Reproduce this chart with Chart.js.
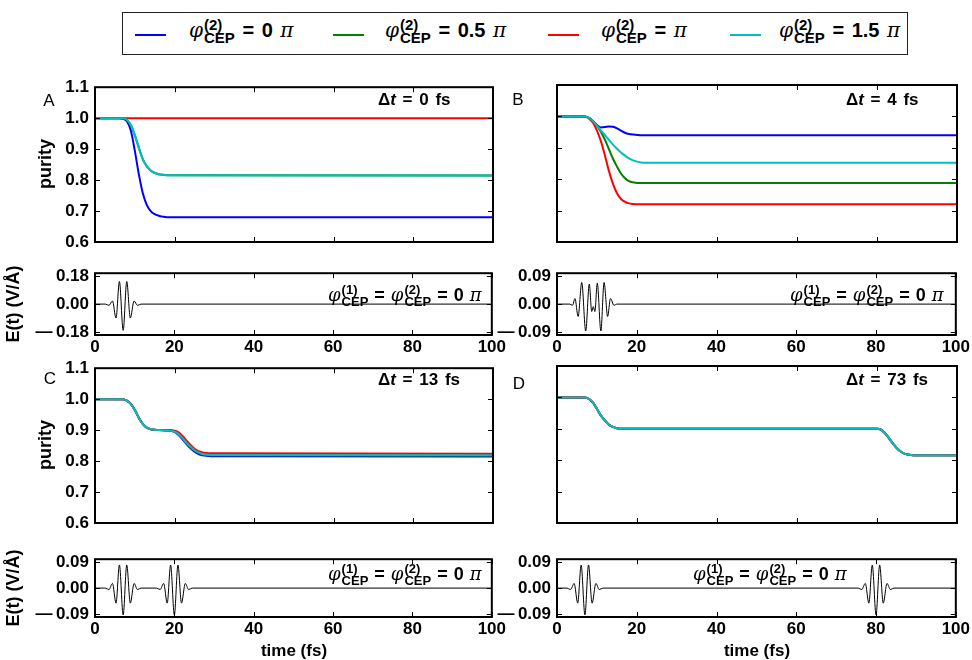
<!DOCTYPE html>
<html>
<head>
<meta charset="utf-8">
<script src="https://cdn.jsdelivr.net/npm/chart.js@4.4.1/dist/chart.umd.min.js"></script>
<style>
html, body { margin: 0; padding: 0; background: #fff; }
body { width: 972px; height: 660px; position: relative; overflow: hidden; font-family: "Liberation Sans", Arial, sans-serif; color: #000; }
canvas { position: absolute; }
.txt { position: absolute; white-space: nowrap; }
.bold { font-weight: bold; }
.phi { font-family: "DejaVu Serif", serif; font-style: italic; font-weight: normal; }
.pi { font-family: "DejaVu Serif", serif; font-style: italic; font-weight: normal; }
.ss { display: inline-block; vertical-align: -5px; font-size: 13px; line-height: 12px; margin-left: 1px; }
.ss span { display: block; }
.big .ss { font-size: 15px; line-height: 13px; vertical-align: -6px; }
#legend { position: absolute; left: 122px; top: 12px; width: 784px; height: 41px; border: 1px solid #222; }
.lline { position: absolute; height: 2px; width: 31px; top: 21px; }
.letter { position: absolute; font-size: 17px; transform: translate(-50%, -50%); }
.ytitle { position: absolute; font-weight: bold; font-size: 18px; transform: translate(-50%, -50%) rotate(-90deg); white-space: nowrap; }
</style>
</head>
<body>
<div id="legend"></div>
<canvas id="purityA"></canvas>
<canvas id="purityB"></canvas>
<canvas id="fieldA"></canvas>
<canvas id="fieldB"></canvas>
<canvas id="purityC"></canvas>
<canvas id="purityD"></canvas>
<canvas id="fieldC"></canvas>
<canvas id="fieldD"></canvas>
<script>
// series (CEP of second pulse) and colours
const cepLabels = ['0 π', '0.5 π', 'π', '1.5 π'];
const colors = ['#0000ff', '#008000', '#ff0000', '#00bfbf'];

// purity ticks / field ticks
const purityTicks = [0.6, 0.7, 0.8, 0.9, 1.0, 1.1];
const fieldTicksA = [-0.18, 0, 0.18];
const fieldTicks = [-0.09, 0, 0.09];
const timeTicks = [0, 20, 40, 60, 80, 100];

// A: dt = 0 fs
const tA = [0, 6, 7, 8, 9, 10, 11, 12, 13, 14, 15, 16, 17, 18, 100];
const blueA = [1, 1, 0.998, 0.99, 0.96, 0.895, 0.82, 0.758, 0.72, 0.7, 0.69, 0.685, 0.682, 0.68, 0.68];
const greenA = [1, 1, 1, 0.995, 0.978, 0.945, 0.905, 0.868, 0.845, 0.831, 0.823, 0.819, 0.817, 0.816, 0.815];
const redA = [1, 1, 1, 1, 1, 1, 1, 1, 1, 1, 1, 1, 1, 1, 1];
const cyanA = [1, 1, 1, 0.995, 0.978, 0.945, 0.905, 0.868, 0.845, 0.831, 0.823, 0.819, 0.817, 0.816, 0.815];

// B: dt = 4 fs
const tB = [0, 7, 8, 9, 10, 11, 12, 13, 14, 15, 16, 17, 18, 19, 20, 21, 22, 100];
const blueB = [1, 1, 0.995, 0.985, 0.972, 0.965, 0.966, 0.968, 0.967, 0.962, 0.955, 0.948, 0.944, 0.942, 0.941, 0.94, 0.94, 0.94];
const greenB = [1, 1, 0.995, 0.985, 0.97, 0.95, 0.925, 0.895, 0.865, 0.84, 0.818, 0.803, 0.794, 0.79, 0.788, 0.788, 0.788, 0.788];
const redB = [1, 1, 0.993, 0.98, 0.955, 0.92, 0.875, 0.825, 0.785, 0.755, 0.737, 0.728, 0.723, 0.721, 0.72, 0.72, 0.72, 0.72];
const cyanB = [1, 1, 0.995, 0.985, 0.97, 0.955, 0.94, 0.925, 0.91, 0.897, 0.885, 0.875, 0.866, 0.86, 0.856, 0.853, 0.852, 0.852];

// C: dt = 13 fs
const tC = [0, 7, 8, 9, 10, 11, 12, 13, 14, 15, 16, 18, 19, 20, 21, 22, 23, 24, 25, 26, 27, 28, 29, 100];
const blueC = [1, 1, 0.995, 0.985, 0.965, 0.94, 0.92, 0.908, 0.903, 0.901, 0.9, 0.899, 0.898, 0.894, 0.884, 0.87, 0.855, 0.841, 0.83, 0.823, 0.819, 0.817, 0.816, 0.815];
const greenC = [1, 1, 0.995, 0.985, 0.965, 0.94, 0.92, 0.908, 0.903, 0.901, 0.9, 0.899, 0.898, 0.895, 0.887, 0.873, 0.858, 0.845, 0.834, 0.827, 0.822, 0.82, 0.819, 0.818];
const redC = [1, 1, 0.995, 0.985, 0.965, 0.94, 0.92, 0.908, 0.903, 0.901, 0.9, 0.9, 0.9, 0.898, 0.893, 0.881, 0.866, 0.852, 0.84, 0.832, 0.828, 0.826, 0.825, 0.824];
const cyanC = [1, 1, 0.995, 0.985, 0.965, 0.94, 0.92, 0.908, 0.903, 0.901, 0.9, 0.899, 0.898, 0.895, 0.887, 0.874, 0.859, 0.846, 0.835, 0.828, 0.823, 0.821, 0.82, 0.819];

// D: dt = 73 fs (all four curves coincide)
const tD = [0, 7, 8, 9, 10, 11, 12, 13, 14, 15, 16, 17, 80, 81, 82, 83, 84, 85, 86, 87, 88, 89, 100];
const allD = [1, 1, 0.995, 0.983, 0.963, 0.942, 0.926, 0.913, 0.906, 0.902, 0.9, 0.9, 0.9, 0.897, 0.886, 0.87, 0.853, 0.838, 0.827, 0.82, 0.817, 0.816, 0.816];

// electric fields E(t) in V/Å
const tEA = [0, 2.6, 3.5, 4.4, 5.3, 6.15, 7.1, 8.0, 8.9, 9.85, 10.7, 11.6, 100];
const EA = [0, 0, -0.008, 0.02, -0.09, 0.146, -0.17, 0.146, -0.09, 0.02, -0.008, 0, 0];
const tEB = [0, 3.2, 3.9, 4.5, 5.3, 6.2, 7.2, 8.1, 8.7, 9.1, 9.5, 10.1, 11.0, 11.8, 12.7, 13.4, 14.3, 15.0, 100];
const EB = [0, 0, -0.004, 0.018, -0.04, 0.07, -0.087, 0.065, -0.024, -0.008, -0.024, 0.068, -0.087, 0.07, -0.04, 0.018, -0.004, 0, 0];
const tEC = [0, 2.6, 3.5, 4.4, 5.3, 6.15, 7.1, 8.0, 8.9, 9.85, 10.7, 11.6, 15.5, 16.4, 17.3, 18.2, 19.05, 20.0, 20.9, 21.8, 22.75, 23.6, 24.5, 100];
const EC = [0, 0, -0.005, 0.016, -0.052, 0.08, -0.093, 0.08, -0.052, 0.016, -0.005, 0, 0, -0.005, 0.016, -0.052, 0.08, -0.093, 0.08, -0.052, 0.016, -0.005, 0, 0];
const tED = [0, 2.5, 3.4, 4.3, 5.2, 6.05, 7.0, 7.9, 8.8, 9.75, 10.6, 11.5, 75.5, 76.4, 77.3, 78.2, 79.05, 80.0, 80.9, 81.8, 82.75, 83.6, 84.5, 100];
const ED = [0, 0, -0.005, 0.016, -0.052, 0.08, -0.093, 0.08, -0.052, 0.016, -0.005, 0, 0, -0.005, 0.016, -0.052, 0.08, -0.093, 0.08, -0.052, 0.016, -0.005, 0, 0];

const PAD = { l: 70, t: 14, r: 15, b: 30 };
const tickFont = { family: '"Liberation Sans", Arial, sans-serif', size: 17, weight: 'bold' };

const frame = {
  id: 'frame',
  afterDatasetsDraw(chart) {
    const { ctx, chartArea: a, scales: { x, y } } = chart;
    ctx.save();
    ctx.strokeStyle = '#000';
    ctx.lineWidth = 1;
    ctx.beginPath();
    x.ticks.forEach(t => {
      const p = Math.round(x.getPixelForValue(t.value)) + 0.5;
      ctx.moveTo(p, a.bottom); ctx.lineTo(p, a.bottom - 5);
      ctx.moveTo(p, a.top); ctx.lineTo(p, a.top + 5);
    });
    y.ticks.forEach(t => {
      const p = Math.round(y.getPixelForValue(t.value)) + 0.5;
      ctx.moveTo(a.left, p); ctx.lineTo(a.left + 5, p);
      ctx.moveTo(a.right, p); ctx.lineTo(a.right - 5, p);
    });
    ctx.stroke();
    ctx.lineWidth = 2;
    ctx.strokeRect(a.left, a.top, a.width, a.height);
    ctx.restore();
  }
};

function pts(ts, vs) { return ts.map((t, i) => ({ x: t, y: vs[i] })); }

function makePanel(id, box, datasets, o) {
  const cv = document.getElementById(id);
  const w = box.r - box.l + PAD.l + PAD.r;
  const h = box.b - box.t + PAD.t + PAD.b;
  cv.width = w; cv.height = h;
  cv.style.left = (box.l - PAD.l) + 'px';
  cv.style.top = (box.t - PAD.t) + 'px';
  cv.style.width = w + 'px'; cv.style.height = h + 'px';
  new Chart(cv, {
    type: 'line',
    data: { datasets },
    options: {
      responsive: false, animation: false, devicePixelRatio: 1,
      layout: { padding: { left: 0, top: PAD.t, right: PAD.r, bottom: 0 } },
      plugins: { legend: { display: false }, tooltip: { enabled: false } },
      elements: { point: { radius: 0 } },
      scales: {
        x: {
          type: 'linear', min: 0, max: 100,
          grid: { display: false, drawTicks: false }, border: { display: false },
          afterBuildTicks: s => { s.ticks = timeTicks.map(v => ({ value: v })); },
          ticks: { display: o.xlabels, padding: 2, maxRotation: 0, autoSkip: false, font: tickFont, color: '#000', callback: v => String(v) },
          afterFit: s => { s.height = PAD.b; }
        },
        y: {
          type: 'linear', min: o.ymin, max: o.ymax,
          grid: { display: false, drawTicks: false }, border: { display: false },
          afterBuildTicks: s => { s.ticks = o.yticks.map(v => ({ value: v })); },
          ticks: { display: o.ylabels, padding: 6, autoSkip: false, font: tickFont, color: '#000', callback: o.fmt },
          afterFit: s => { s.width = PAD.l; }
        }
      }
    },
    plugins: [frame]
  });
}

function purity(ts, b, g, r, c) {
  const vals = [b, g, r, c];
  const order = [3, 2, 1, 0];
  return vals.map((v, i) => ({
    data: pts(ts, v), borderColor: colors[i], borderWidth: 2,
    cubicInterpolationMode: 'monotone', order: order[i], fill: false
  }));
}
function field(ts, vs) {
  return [{ data: pts(ts, vs), borderColor: '#000', borderWidth: 1, cubicInterpolationMode: 'monotone', fill: false }];
}

const fmt1 = v => v.toFixed(1);
// matplotlib-style wide minus sign
const fmt2 = v => (v < -1e-9 ? '\u2014\u2009' : '') + Math.abs(v).toFixed(2);

const pOpt = (labels) => ({ ymin: 0.6, ymax: 1.1, yticks: purityTicks, ylabels: labels, xlabels: false, fmt: fmt1 });

makePanel('purityA', { l: 95, t: 85, r: 493, b: 242 }, purity(tA, blueA, greenA, redA, cyanA), pOpt(true));
makePanel('purityB', { l: 557, t: 85, r: 957, b: 242 }, purity(tB, blueB, greenB, redB, cyanB), pOpt(false));
makePanel('purityC', { l: 95, t: 366, r: 493, b: 523 }, purity(tC, blueC, greenC, redC, cyanC), pOpt(true));
makePanel('purityD', { l: 557, t: 366, r: 957, b: 523 }, purity(tD, allD, allD, allD, allD), pOpt(false));

makePanel('fieldA', { l: 95, t: 271, r: 493, b: 335 }, field(tEA, EA), { ymin: -0.2, ymax: 0.2, yticks: fieldTicksA, ylabels: true, xlabels: true, fmt: fmt2 });
makePanel('fieldB', { l: 557, t: 271, r: 957, b: 335 }, field(tEB, EB), { ymin: -0.1, ymax: 0.1, yticks: fieldTicks, ylabels: true, xlabels: true, fmt: fmt2 });
makePanel('fieldC', { l: 95, t: 557, r: 493, b: 617 }, field(tEC, EC), { ymin: -0.1, ymax: 0.1, yticks: fieldTicks, ylabels: true, xlabels: true, fmt: fmt2 });
makePanel('fieldD', { l: 557, t: 557, r: 957, b: 617 }, field(tED, ED), { ymin: -0.1, ymax: 0.1, yticks: fieldTicks, ylabels: true, xlabels: true, fmt: fmt2 });

// text: legend, labels, annotations
function phi(n) {
  return '<span class="phi">\u03C6</span><span class="ss"><span>(' + n + ')</span><span>CEP</span></span>';
}
function addText(html, x, y, cls, style) {
  const d = document.createElement('div');
  d.className = cls;
  d.innerHTML = html;
  d.style.left = x + 'px';
  d.style.top = y + 'px';
  if (style) d.style.cssText += style;
  document.body.appendChild(d);
  return d;
}

const legend = document.getElementById('legend');
const lineX = [12, 210, 425, 607];
const labelX = [66, 262, 478, 656];
cepLabels.forEach((lab, i) => {
  const l = document.createElement('div');
  l.className = 'lline';
  l.style.left = lineX[i] + 'px';
  l.style.background = colors[i];
  legend.appendChild(l);
  const t = document.createElement('div');
  t.className = 'txt bold big';
  t.style.cssText = 'left:' + labelX[i] + 'px; top:5px; font-size:20px; line-height:22px; word-spacing:2px;';
  t.innerHTML = phi(2) + ' = ' + lab.replace('π', '<span class="pi">π</span>');
  legend.appendChild(t);
});

addText('A', 49, 101, 'letter');
addText('B', 518, 100, 'letter');
addText('C', 50, 379, 'letter');
addText('D', 519, 384, 'letter');

const dtLabels = ['0', '4', '13', '73'];
const dtPos = [[378, 90], [846, 90], [378, 370], [846, 370]];
dtLabels.forEach((d, i) => {
  addText('\u0394<i>t</i> = ' + d + ' fs', dtPos[i][0], dtPos[i][1], 'txt bold', 'font-size:17px; line-height:20px; word-spacing:2px;');
});

const cepNote = phi(1) + ' = ' + phi(2) + ' = 0 <span class="pi">π</span>';
const notePos = [[328, 284], [790, 284], [328, 563], [693, 563]];
notePos.forEach(p => addText(cepNote, p[0], p[1], 'txt bold', 'font-size:18px; line-height:20px; word-spacing:1px;'));

addText('purity', 45, 164, 'ytitle');
addText('purity', 45, 445, 'ytitle');
addText('E(t) (V/Å)', 13, 304, 'ytitle');
addText('E(t) (V/Å)', 13, 588, 'ytitle');
addText('time (fs)', 294, 651, 'ytitle', 'transform: translate(-50%, -50%); font-size:17px;');
addText('time (fs)', 757, 651, 'ytitle', 'transform: translate(-50%, -50%); font-size:17px;');
</script>
</body>
</html>
